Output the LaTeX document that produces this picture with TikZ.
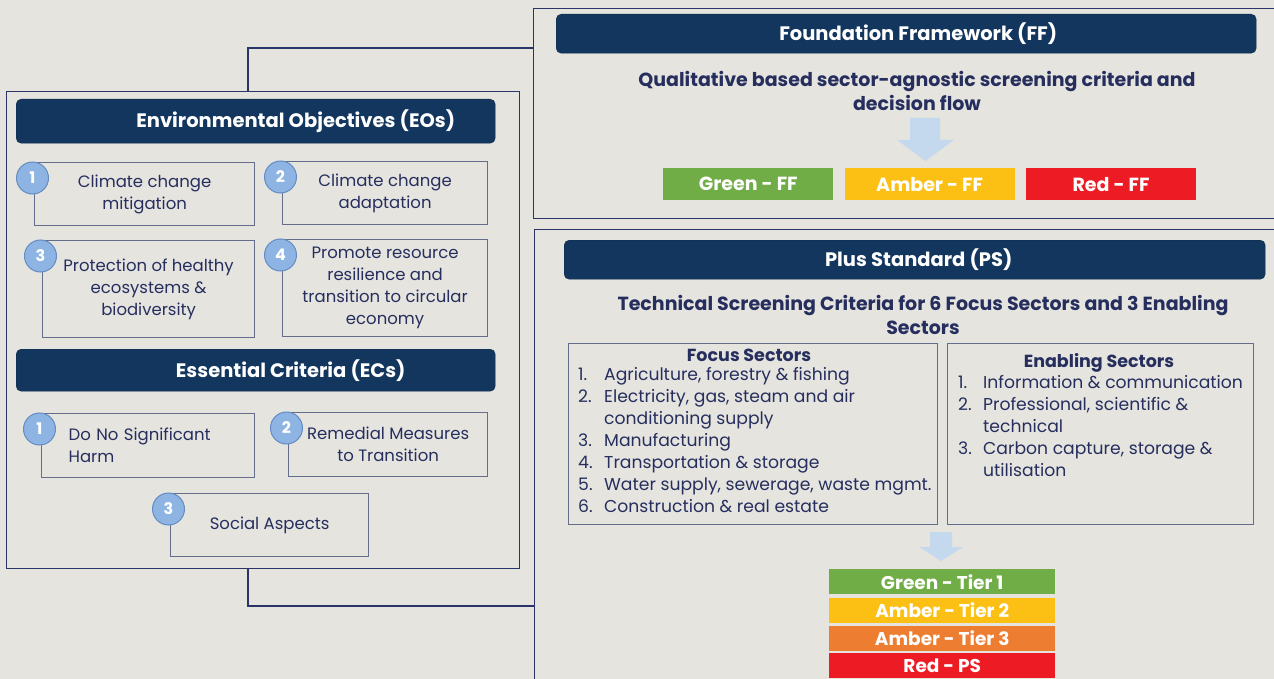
\documentclass[tikz,border=0pt]{standalone}
\usepackage{fontspec}
\setmainfont{Poppins}
\usetikzlibrary{positioning}

\definecolor{bgpaper}{RGB}{229,228,223}
\definecolor{navyline}{RGB}{43,52,105}
\definecolor{navyhead}{RGB}{18,54,94}
\definecolor{navytext}{RGB}{38,46,94}
\definecolor{boxline}{RGB}{100,110,140}
\definecolor{numfill}{RGB}{141,180,226}
\definecolor{numline}{RGB}{100,140,195}
\definecolor{arrowblue}{RGB}{197,217,238}
\definecolor{tiergreen}{RGB}{112,173,71}
\definecolor{tieramber}{RGB}{252,192,20}
\definecolor{tierorange}{RGB}{237,125,49}
\definecolor{tierred}{RGB}{237,28,36}

\begin{document}
\begin{tikzpicture}[x=1pt,y=-1pt,
  frame/.style={draw=navyline,line width=1.3pt,anchor=north west,inner sep=0pt},
  link/.style={draw=navyline,line width=1.3pt},
  header/.style={fill=navyhead,draw=navyhead!80!black,rounded corners=5pt,anchor=north west,inner sep=0pt},
  htitle/.style={text=white,font=\bfseries\fontsize{19.5}{23}\selectfont},
  objbox/.style={draw=boxline,line width=1.2pt,anchor=north west,inner xsep=2pt,align=center,
    text=navytext,font=\fontsize{16.5}{22}\selectfont},
  num/.style={circle,fill=numfill,draw=numline,line width=1pt,minimum size=32pt,inner sep=0pt,
    text=white,font=\bfseries\fontsize{16}{20}\selectfont},
  lead/.style={align=center,text=navytext,font=\bfseries\fontsize{19}{24}\selectfont},
  listtext/.style={anchor=west,inner sep=0pt,text=navytext,font=\fontsize{17.2}{22}\selectfont},
  listhead/.style={text=navytext,font=\bfseries\fontsize{17.5}{22}\selectfont},
  ffbox/.style={minimum width=170pt,minimum height=32pt,inner sep=0pt,text=white,font=\bfseries\fontsize{19}{22}\selectfont},
  tierbox/.style={minimum width=226pt,minimum height=25pt,inner sep=0pt,text=white,font=\bfseries\fontsize{18.5}{22}\selectfont}]

\path[use as bounding box,fill=bgpaper] (0,0) rectangle (1274,679);
\clip (0,0) rectangle (1274,679);

\node[frame,minimum width=513pt,minimum height=477pt] (eoframe) at (6,91) {};
\node[frame,minimum width=780pt,minimum height=210pt] (ffframe) at (533,8) {};
\node[frame,minimum width=780pt,minimum height=500pt] (psframe) at (534,229) {};

\draw[link] ([xshift=242pt]eoframe.north west) |- ([yshift=-40pt]ffframe.north west);
\draw[link] ([xshift=242pt]eoframe.south west) |- ([yshift=-377pt]psframe.north west);

\node[header,minimum width=479pt,minimum height=44pt] (eohead) at (16,99) {};
\node[htitle] (eotitle) at ([xshift=40pt]eohead.center) {Environmental Objectives (EOs)};

\node[objbox,minimum width=220pt,minimum height=63pt] (eo1) at (34,162) {Climate change\\mitigation};
\node[objbox,minimum width=205pt,minimum height=63pt] (eo2) at (282,161) {Climate change\\adaptation};
\node[objbox,minimum width=212pt,minimum height=97pt] (eo3) at (42,240) {Protection of healthy\\ecosystems \&\\biodiversity};
\node[objbox,minimum width=205pt,minimum height=97pt] (eo4) at (282,239) {Promote resource\\resilience and\\transition to circular\\economy};
\node[num] (eo1num) at ([shift={(-1.5,16)}]eo1.north west) {1};
\node[num] (eo2num) at ([shift={(-1.5,16)}]eo2.north west) {2};
\node[num] (eo3num) at ([shift={(-1.5,16)}]eo3.north west) {3};
\node[num] (eo4num) at ([shift={(-1.5,16)}]eo4.north west) {4};

\node[header,minimum width=479pt,minimum height=42pt] (echead) at (16,349) {};
\node[htitle] (ectitle) at ([xshift=35pt]echead.center) {Essential Criteria (ECs)};

\node[objbox,minimum width=213pt,minimum height=64pt,align=left,text width=159pt,inner xsep=27pt] (ec1) at (41,413) {Do No Significant\\Harm};
\node[objbox,minimum width=199pt,minimum height=64pt] (ec2) at (288,412) {Remedial Measures\\to Transition};
\node[objbox,minimum width=198pt,minimum height=63pt] (ec3) at (170,493) {Social Aspects};
\node[num] (ec1num) at ([shift={(-1.5,16)}]ec1.north west) {1};
\node[num] (ec2num) at ([shift={(-1.5,16)}]ec2.north west) {2};
\node[num] (ec3num) at ([shift={(-1.5,16)}]ec3.north west) {3};

\node[header,minimum width=700pt,minimum height=39pt] (ffhead) at (556,14) {};
\node[htitle] (fftitle) at ([xshift=12pt]ffhead.center) {Foundation Framework (FF)};
\node[lead] (fflead) at (917,91) {Qualitative based sector-agnostic screening criteria and\\decision flow};
\fill[arrowblue] (910,118) -- (940,118) -- (940,140) -- (954,140) -- (925.5,161)
  -- (897,140) -- (910,140) -- cycle;
\node[ffbox,fill=tiergreen,anchor=north west] (ffgreen) at (663,168) {Green - FF};
\node[ffbox,fill=tieramber,right=11pt of ffgreen] (ffamber) {Amber - FF};
\node[ffbox,fill=tierred,right=11pt of ffamber] (ffred) {Red - FF};

\node[header,minimum width=701pt,minimum height=39pt] (pshead) at (564,240) {};
\node[htitle] (pstitle) at ([xshift=4pt]pshead.center) {Plus Standard (PS)};
\node[lead] (pslead) at (923,315) {Technical Screening Criteria for 6 Focus Sectors and 3 Enabling\\Sectors};

\node[frame,draw=boxline,line width=1.2pt,minimum width=369pt,minimum height=181pt] (focus) at (568,343) {};
\node[frame,draw=boxline,line width=1.2pt,minimum width=306pt,minimum height=181pt] (enabling) at (947,343) {};
\node[listhead] (focustitle) at (749,355) {Focus Sectors};
\node[listhead] (enablingtitle) at (1099,363) {Enabling Sectors};
\node[listtext] (focuslist) at (578,442.5) {%
  \begin{tabular}{@{}p{26pt}@{}l@{}}
  1. & Agriculture, forestry \& fishing\\
  2. & Electricity, gas, steam and air\\
     & conditioning supply\\
  3. & Manufacturing\\
  4. & Transportation \& storage\\
  5. & Water supply, sewerage, waste mgmt.\\
  6. & Construction \& real estate
  \end{tabular}};
\node[listtext] (enablinglist) at (958,428) {%
  \begin{tabular}{@{}p{25pt}@{}l@{}}
  1. & Information \& communication\\
  2. & Professional, scientific \&\\
     & technical\\
  3. & Carbon capture, storage \&\\
     & utilisation
  \end{tabular}};

\fill[arrowblue] (930,532) -- (952,532) -- (952,547) -- (963,547) -- (941,561)
  -- (919,547) -- (930,547) -- cycle;
\node[tierbox,fill=tiergreen,anchor=north west] (tier1) at (829,569) {Green - Tier 1};
\node[tierbox,fill=tieramber,below=3pt of tier1] (tier2) {Amber - Tier 2};
\node[tierbox,fill=tierorange,below=3pt of tier2] (tier3) {Amber - Tier 3};
\node[tierbox,fill=tierred,below=2pt of tier3] (tier4) {Red - PS};
\end{tikzpicture}
\end{document}
